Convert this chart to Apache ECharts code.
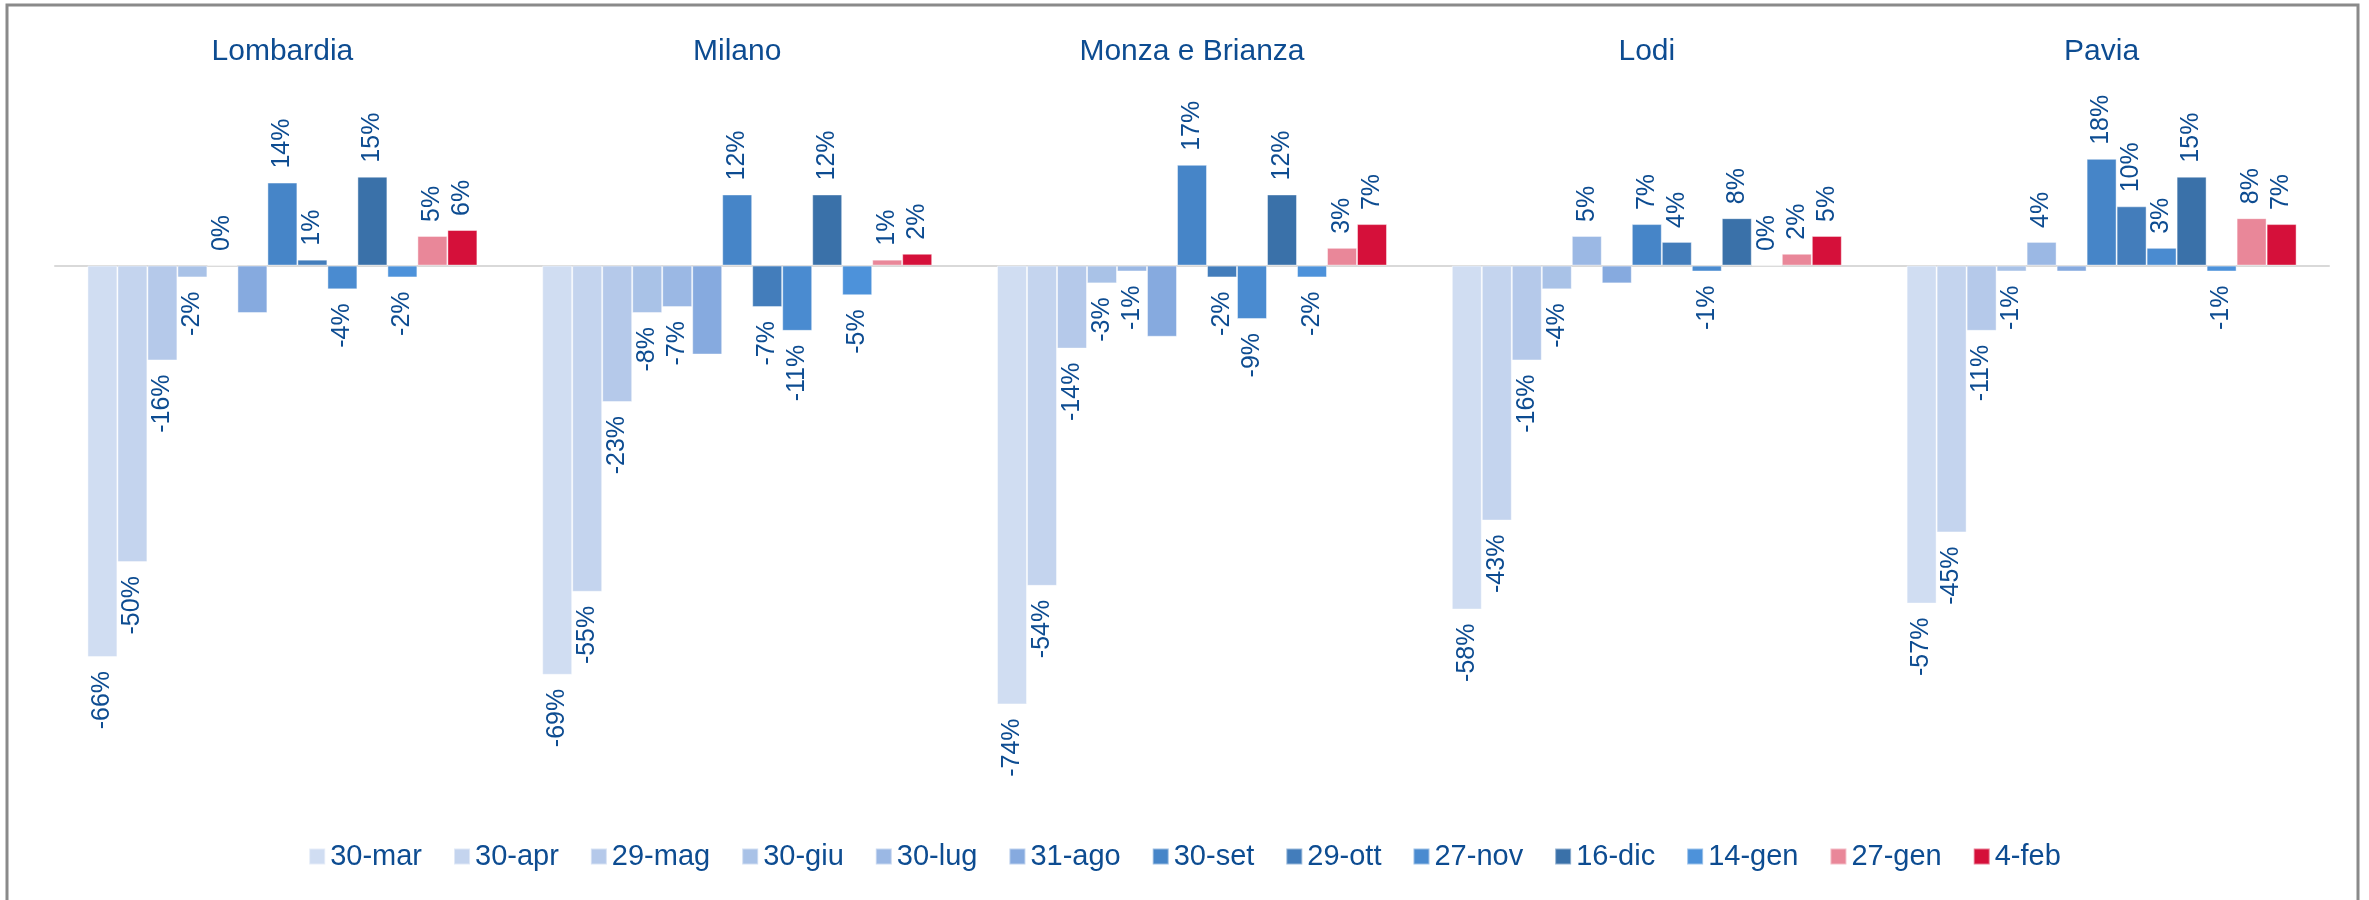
<!DOCTYPE html>
<html>
<head>
<meta charset="utf-8">
<script src="https://cdn.jsdelivr.net/npm/echarts@6/dist/echarts.min.js"></script>
<style>
  html, body { margin: 0; padding: 0; background: #fff; }
  #chart { width: 2369px; height: 900px; }
</style>
</head>
<body>
<div id="chart"></div>
<script>
// categorie (province) e date delle rilevazioni
const regions = ['Lombardia', 'Milano', 'Monza e Brianza', 'Lodi', 'Pavia']
const dates = ['30-mar', '30-apr', '29-mag', '30-giu', '30-lug', '31-ago', '30-set',
  '29-ott', '27-nov', '16-dic', '14-gen', '27-gen', '4-feb']

// variazioni % per provincia, una per data
const lombardia = [-66, -50, -16, -2, 0, -8, 14, 1, -4, 15, -2, 5, 6]
const milano = [-69, -55, -23, -8, -7, -15, 12, -7, -11, 12, -5, 1, 2]
const monza = [-74, -54, -14, -3, -1, -12, 17, -2, -9, 12, -2, 3, 7]
const lodi = [-58, -43, -16, -4, 5, -3, 7, 4, -1, 8, 0, 2, 5]
const pavia = [-57, -45, -11, -1, 4, -1, 18, 10, 3, 15, -1, 8, 7]

// date senza etichetta nel grafico originale
const noLabel = ['31-ago']

const colors = ['#D0DDF2', '#C4D4EE', '#B5C9EA', '#A9C2E7', '#9BB8E4', '#86AADF', '#4685C8',
  '#437DBB', '#4A8BD0', '#3A71A9', '#4D92DA', '#E98799', '#D5103A']

const textColor = '#0D4C91'
const font = '"Liberation Sans", Arial, sans-serif'

const byRegion = [lombardia, milano, monza, lodi, pavia]

const series = dates.map((d, i) => ({
  name: d,
  type: 'bar',
  barWidth: 30,
  barGap: '0%',
  itemStyle: { color: colors[i], borderColor: 'rgba(255,255,255,0.45)', borderWidth: 1 },
  label: {
    show: !noLabel.includes(d),
    rotate: 90,
    verticalAlign: 'middle',
    distance: 14,
    color: textColor,
    fontSize: 25,
    fontFamily: font,
    formatter: (p) => p.value + '%'
  },
  data: byRegion.map((arr) => {
    const v = arr[i]
    return {
      value: v,
      label: v >= 0 ? { position: 'top', align: 'left' } : { position: 'bottom', align: 'right' }
    }
  })
}))

const chart = echarts.init(document.getElementById('chart'))
chart.setOption({
  animation: false,
  textStyle: { fontFamily: font },
  graphic: [{
    type: 'rect',
    shape: { x: 7, y: 5, width: 2351, height: 930 },
    style: { fill: 'none', stroke: '#8a8a8a', lineWidth: 3 },
    silent: true
  }],
  legend: {
    data: dates,
    left: 'center',
    top: 837,
    icon: 'rect',
    itemWidth: 16,
    itemHeight: 16,
    itemGap: 31,
    textStyle: { color: textColor, fontSize: 29, fontFamily: font }
  },
  grid: { left: 55, top: 147, width: 2274, height: 593, containLabel: false },
  xAxis: [{
    type: 'category',
    data: regions,
    axisLine: { onZero: true, lineStyle: { color: '#D9D9D9', width: 2 } },
    axisTick: { show: false },
    axisLabel: { show: false }
  }, {
    type: 'category',
    data: regions,
    position: 'top',
    axisLine: { show: false },
    axisTick: { show: false },
    axisLabel: { color: textColor, fontSize: 30, fontFamily: font, margin: 80 }
  }],
  yAxis: {
    type: 'value',
    min: -80,
    max: 20,
    show: false,
    splitLine: { show: false }
  },
  series: series
})
</script>
</body>
</html>
